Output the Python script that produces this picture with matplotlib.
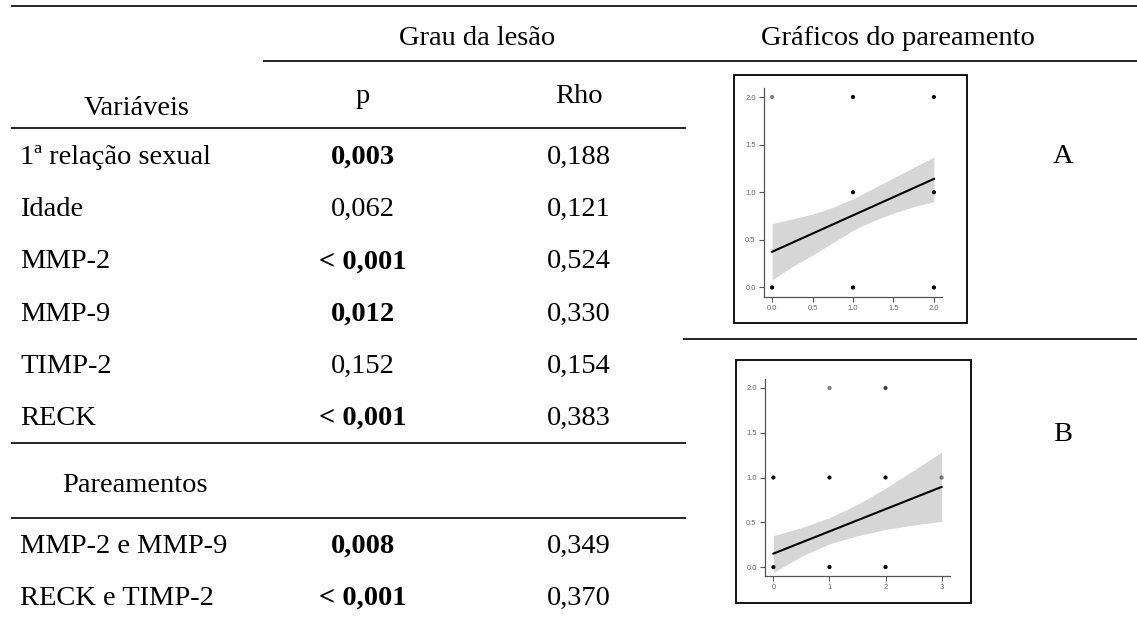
import numpy as np
import matplotlib
matplotlib.use('Agg')
import matplotlib.pyplot as plt
from matplotlib.patches import Rectangle

# table values
variaveis = ['1ª relação sexual', 'Idade', 'MMP-2', 'MMP-9', 'TIMP-2', 'RECK']
p_valores = ['0,003', '0,062', '< 0,001', '0,012', '0,152', '< 0,001']
p_negrito = [True, False, True, True, False, True]
rho_valores = ['0,188', '0,121', '0,524', '0,330', '0,154', '0,383']

pareamentos = ['MMP-2 e MMP-9', 'RECK e TIMP-2']
p_pareamentos = ['0,008', '< 0,001']
rho_pareamentos = ['0,349', '0,370']

# pairing plot A (points, counts of overlapping cases, fit and CI band)
a_x = [0, 1, 2, 1, 2, 0, 1, 2]
a_y = [2, 2, 2, 1, 1, 0, 0, 0]
a_n = [1, 4, 4, 3, 3, 8, 4, 4]
a_fit_x = [0, 2]
a_fit_y = [0.375, 1.14]
a_band_x = [0, 0.25, 0.5, 0.75, 1, 1.25, 1.5, 1.75, 2]
a_band_lo = [0.08, 0.22, 0.34, 0.47, 0.60, 0.70, 0.78, 0.85, 0.90]
a_band_hi = [0.67, 0.72, 0.77, 0.84, 0.93, 1.04, 1.15, 1.26, 1.37]

# pairing plot B
b_x = [1, 2, 0, 1, 2, 3, 0, 1, 2]
b_y = [2, 2, 1, 1, 1, 1, 0, 0, 0]
b_n = [1, 2, 3, 3, 3, 1, 4, 4, 4]
b_fit_x = [0, 3]
b_fit_y = [0.15, 0.895]
b_band_x = [0, 0.5, 1, 1.5, 2, 2.5, 3]
b_band_lo = [-0.06, 0.12, 0.26, 0.35, 0.42, 0.47, 0.51]
b_band_hi = [0.35, 0.44, 0.55, 0.70, 0.88, 1.08, 1.285]

W, H = 1137, 619
SERIF = ['Liberation Serif', 'DejaVu Serif']
FS = 20.5

fig = plt.figure(figsize=(W / 100, H / 100), dpi=100)
ax = fig.add_axes([0, 0, 1, 1])
ax.set_xlim(0, W)
ax.set_ylim(H, 0)
ax.axis('off')


def txt(x, y, s, ha='left', bold=False):
    ax.text(x, y, s, ha=ha, va='baseline', fontsize=FS, family=SERIF,
            fontweight='bold' if bold else 'normal', color='black')


def hline(y, x0, x1):
    ax.plot([x0, x1], [y, y], color='black', lw=1.2, solid_capstyle='butt')


# rules
hline(6, 11, W)
hline(60.5, 263, W)
hline(128, 11, 686)
hline(443, 11, 686)
hline(518, 11, 686)
hline(339, 683, W)

# headers
x_p, x_rho = 363, 579
txt(477, 45, 'Grau da lesão', ha='center')
txt(898, 45, 'Gráficos do pareamento', ha='center')
txt(x_p, 103, 'p', ha='center')
txt(x_rho, 103, 'Rho', ha='center')
txt(137, 115, 'Variáveis', ha='center')

row_y = 164 + 52.2 * np.arange(len(variaveis))
for y, nome, pv, neg, r in zip(row_y, variaveis, p_valores, p_negrito, rho_valores):
    txt(20, y, nome)
    txt(x_p, y, pv, ha='center', bold=neg)
    txt(x_rho, y, r, ha='center')

txt(62, 492, 'Pareamentos')
for y, nome, pv, r in zip([553, 605], pareamentos, p_pareamentos, rho_pareamentos):
    txt(20, y, nome)
    txt(x_p, y, pv, ha='center', bold=True)
    txt(x_rho, y, r, ha='center')

txt(1063, 163, 'A', ha='center')
txt(1063, 441, 'B', ha='center')

# frames around the small plots
for (l, t, r, b) in [(734, 75, 967, 323), (736, 360, 971, 603)]:
    ax.add_patch(Rectangle((l, t), r - l, b - t, fill=False, ec='black', lw=1.3))


def small_plot(box, xs, ys, ns, fx, fy, bx, blo, bhi, xlim, xticks, xfmt):
    l, t, r, b = box
    a = fig.add_axes([l / W, 1 - b / H, (r - l) / W, (b - t) / H])
    a.patch.set_alpha(0)
    a.fill_between(bx, blo, bhi, color='#d6d6d6', lw=0)
    a.plot(fx, fy, color='black', lw=1.5)
    alphas = [min(1.0, 0.25 + 0.25 * n) for n in ns]
    cols = [(0, 0, 0, al) for al in alphas]
    a.scatter(xs, ys, s=9, c=cols, lw=0, zorder=3)
    a.set_xlim(*xlim)
    a.set_ylim(-0.1, 2.1)
    a.set_xticks(xticks)
    a.set_xticklabels([xfmt % v for v in xticks])
    a.set_yticks([0, 0.5, 1, 1.5, 2])
    a.set_yticklabels(['%.1f' % v for v in [0, 0.5, 1, 1.5, 2]])
    for s in ['top', 'right']:
        a.spines[s].set_visible(False)
    for s in ['left', 'bottom']:
        a.spines[s].set_color('#555555')
        a.spines[s].set_linewidth(0.9)
    a.tick_params(length=3.5, width=0.8, colors='#555555', labelsize=5.5,
                  labelcolor='#666666', pad=2.5)
    for lab in a.get_xticklabels() + a.get_yticklabels():
        lab.set_family(['Liberation Sans', 'DejaVu Sans'])
    return a


small_plot((764, 87.5, 942, 297), a_x, a_y, a_n, a_fit_x, a_fit_y,
           a_band_x, a_band_lo, a_band_hi, (-0.1, 2.1), [0, 0.5, 1, 1.5, 2], '%.1f')
small_plot((765, 379, 950, 576), b_x, b_y, b_n, b_fit_x, b_fit_y,
           b_band_x, b_band_lo, b_band_hi, (-0.15, 3.15), [0, 1, 2, 3], '%d')

fig.savefig('out.png', dpi=100)
